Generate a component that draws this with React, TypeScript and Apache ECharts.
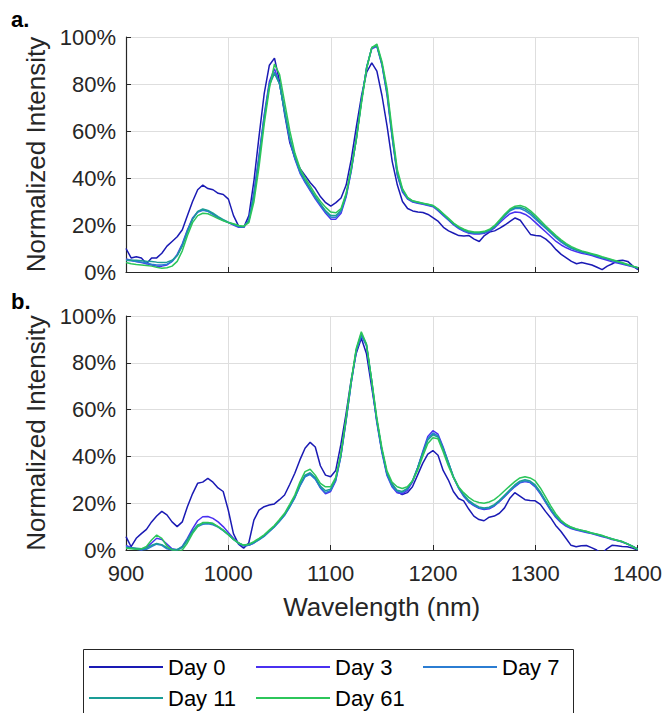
import React, { useEffect, useRef } from "react";
import * as echarts from "echarts";

// Wavelength sampling (nm)
const wavelengths = [
  900, 905, 910, 915, 920, 925, 930, 935, 940, 945,
  950, 955, 960, 965, 970, 975, 980, 985, 990, 995,
  1000, 1005, 1010, 1015, 1020, 1025, 1030, 1035, 1040, 1045,
  1050, 1055, 1060, 1065, 1070, 1075, 1080, 1085, 1090, 1095,
  1100, 1105, 1110, 1115, 1120, 1125, 1130, 1135, 1140, 1145,
  1150, 1155, 1160, 1165, 1170, 1175, 1180, 1185, 1190, 1195,
  1200, 1205, 1210, 1215, 1220, 1225, 1230, 1235, 1240, 1245,
  1250, 1255, 1260, 1265, 1270, 1275, 1280, 1285, 1290, 1295,
  1300, 1305, 1310, 1315, 1320, 1325, 1330, 1335, 1340, 1345,
  1350, 1355, 1360, 1365, 1370, 1375, 1380, 1385, 1390, 1395,
  1400,
];

const dayNames = ["Day 0", "Day 3", "Day 7", "Day 11", "Day 61"];
const dayColors = ["#1a1ab4", "#4a30f0", "#2b7dd2", "#1a9d96", "#2cc65a"];

const xTicks = [900, 1000, 1100, 1200, 1300, 1400];
const yTicks = [0, 20, 40, 60, 80, 100];

// Panel a — normalized intensity (%)
const topDay0 = [
  10, 6, 6.5, 6, 3.5, 6, 6, 8, 11, 13,
  15, 18, 24, 30, 35, 37, 35.5, 35, 33.5, 33,
  31, 24, 19.5, 19, 24, 39, 58, 76, 88, 91,
  81, 67, 55, 48.5, 44, 41, 38, 35.5, 32, 29.5,
  28, 29.5, 31.5, 37, 48, 62, 75, 85, 89, 85.5,
  75, 62, 47, 37, 30, 27, 26, 25.5, 25.3, 24.5,
  23, 21.5, 19, 17.5, 16.5, 15.5, 15.3, 15.5, 14, 13,
  15.5, 17, 17.5, 18.7, 20, 21.5, 23, 22, 19, 16,
  15.5, 15.3, 14, 12, 9.5, 7.5, 6, 4.5, 3.5, 4,
  3.5, 3, 2, 1, 2.5, 3.5, 4.8, 5, 4.5, 2.5,
  1,
];
const topDay3 = [
  5.5, 5, 4.5, 4, 3.5, 3, 2.5, 2.5, 3, 4.5,
  7.5, 12, 18, 23, 25.5, 26.5, 26, 24.5, 23, 22,
  21, 20, 19, 19, 22, 34, 50, 67, 81, 86.5,
  80, 68, 56, 48, 42, 38, 34.5, 31, 28, 25,
  22.5, 22.5, 25, 32, 43, 57, 73, 87, 95, 96,
  88, 75, 57, 41, 34, 31, 29.8, 29.3, 28.8, 28.3,
  27.8, 26, 24, 22, 20, 18.5, 17.3, 16.5, 16.2, 16.2,
  16.5, 17.3, 18.8, 21, 23, 24.8, 25.5, 25.3, 24.5, 23,
  21, 19, 17, 15, 13, 11.5, 10.3, 9.3, 8.6, 8,
  7.5, 7, 6.3, 5.6, 5, 4.3, 3.8, 3.3, 2.8, 2.2,
  1.6,
];
const topDay7 = [
  5, 4.8, 4.5, 4.2, 3.8, 3.3, 3, 3, 3.3, 4.5,
  7, 11.5, 17.5, 22.5, 25.5, 26.3, 25.8, 24.5, 23.2, 22,
  21, 20.2, 19.3, 19.2, 22, 33, 49, 66, 80, 85,
  80, 68, 56.5, 48.5, 42.5, 38.5, 35, 31.5, 28.5, 25.5,
  23.3, 23.3, 25.8, 32.5, 43.5, 57, 73, 87, 95.5, 96.5,
  88.5, 76, 57.5, 41.5, 34.5, 31.3, 30, 29.5, 29, 28.5,
  28, 26.3, 24.3, 22.3, 20.3, 18.8, 17.6, 16.8, 16.5, 16.5,
  16.8, 17.6, 19.2, 21.5, 24, 26, 27, 27, 26, 24.5,
  22.5, 20.5, 18.5, 16.5, 14.5, 12.7, 11.2, 10, 9.2, 8.5,
  8, 7.4, 6.8, 6.1, 5.5, 4.8, 4.2, 3.6, 3, 2.3,
  1.7,
];
const topDay11 = [
  5, 5, 5, 4.8, 4.6, 4.5, 4.2, 4, 4.2, 5,
  7, 11, 17, 22.5, 25.8, 26.8, 26.2, 25, 23.6, 22.3,
  21.2, 20.3, 19.5, 19.3, 21.8, 32.5, 48, 65, 79.5, 84.5,
  80, 68.5, 57, 49, 43, 39, 35.5, 32, 29, 26,
  24, 24, 26.3, 33, 44, 57, 73, 87, 95.5, 96.2,
  88.5, 76.5, 58, 42, 35, 31.5, 30.2, 29.7, 29.2, 28.7,
  28.2, 26.5, 24.5, 22.5, 20.5, 19, 17.8, 17, 16.7, 16.7,
  17, 17.8, 19.4, 21.8, 24.3, 26.4, 27.5, 27.6, 26.8, 25.3,
  23.2, 21, 19, 17, 15, 13.2, 11.6, 10.3, 9.4, 8.7,
  8.1, 7.5, 6.9, 6.2, 5.6, 5, 4.4, 3.7, 3.1, 2.4,
  1.8,
];
const topDay61 = [
  4, 3.5, 3.2, 3, 2.8, 2.5, 2, 1.6, 1.8, 2.5,
  4.5, 9, 15.5, 21, 24, 25, 24.8, 23.8, 22.7, 21.8,
  21, 20.5, 19.8, 19.5, 21, 30, 45, 63, 78, 88.5,
  84, 72, 60, 50.5, 44, 40, 36.5, 33, 30, 27.5,
  25.5, 25.2, 27, 33.5, 44, 56.5, 72, 86.5, 95.5, 97,
  89.5, 78, 60, 43.5, 35.5, 31.8, 30.3, 29.8, 29.3, 28.8,
  28.3, 26.8, 24.8, 22.8, 20.8, 19.3, 18.2, 17.4, 17, 17,
  17.3, 18.2, 19.8, 22.2, 24.7, 26.8, 28, 28.3, 27.6, 26,
  24, 21.8, 19.6, 17.5, 15.5, 13.7, 12.1, 10.8, 9.8, 9,
  8.4, 7.8, 7.2, 6.5, 5.9, 5.2, 4.6, 3.9, 3.2, 2.5,
  1.8,
];

// Panel b — normalized intensity (%)
const bottomDay0 = [
  5.7, 1.4, 5, 7, 8.8, 12, 14.5, 16.5, 15, 12,
  10, 12, 18.5, 24, 28.5, 29, 30.6, 29, 26.5, 25,
  17, 7, 2.5, 0.8, 3, 12.8, 17, 18.5, 19.2, 19.7,
  21.5, 23.5, 28, 32.8, 38.5, 43.5, 46, 44, 36, 32,
  31.3, 34, 45, 58, 72.5, 84, 90.5, 84, 70, 56,
  43, 33, 28.3, 25, 23.7, 24.5, 27, 32, 37, 41,
  42.5, 40.5, 34, 30, 25, 22, 21, 17.5, 14.5, 13,
  12.5, 14, 14.5, 15.7, 18, 22, 24.5, 23, 21.5, 21.2,
  21, 19.5, 16.5, 13.8, 10.5, 8, 5, 2, 1.4, 1.8,
  1.9, 1, 0, -1.5, 0.5, 2, 1.8, 1.5, 1.4, 0.8,
  0,
];
const bottomDay3 = [
  2, 1, 0.5, 0, 1, 3, 5, 4.5, 2.5, 0.5,
  0, 1.5, 5, 9, 12.5, 14.2, 14.3, 13.5, 12, 10,
  7.5, 5, 3, 1.8, 2, 3, 4.5, 6, 8, 10,
  12.5, 15, 18.5, 22.5, 27.5, 31.5, 32.5, 30.5, 26.5, 24,
  25, 29.5, 40, 55, 71, 85, 92, 87.5, 72, 55,
  42, 32, 27, 24.5, 24, 25.5, 29, 35, 42, 48.5,
  51, 49.5, 44, 37.5, 31, 26.5, 23, 20.5, 19, 17.8,
  17.3, 17.6, 18.8, 20.6, 22.8, 25, 27, 28.7, 29.3, 28.8,
  27, 24, 20.5, 17, 14, 11.8, 10.2, 9.2, 8.5, 8,
  7.5, 7, 6.4, 5.8, 5.2, 4.5, 4, 3.4, 2.5, 1.5,
  0.5,
];
const bottomDay7 = [
  1.5, 0.8, 0.3, 0, 0.3, 1.5, 2.5, 2, 0.5, 0,
  0, 1, 4, 7.5, 10, 11, 11.2, 10.8, 9.8, 8.3,
  6.5, 4.5, 2.8, 1.8, 2, 3, 4.3, 5.8, 7.8, 9.8,
  12.2, 14.8, 18.3, 22.3, 27.3, 31.3, 32.3, 30.3, 26.7, 24.5,
  25.5, 30, 40, 55, 71, 85, 91.5, 87.5, 72.5, 55.5,
  42.5, 32.5, 27.5, 25, 24.6, 26, 29.5, 35, 41.5, 47.5,
  50, 48.8, 43.5, 37.5, 31.2, 26.7, 23.3, 20.8, 19.2, 18,
  17.6, 17.9, 19, 20.8, 23, 25.2, 27.3, 28.9, 29.5, 29,
  27.3, 24.3, 20.8, 17.3, 14.3, 12.1, 10.5, 9.4, 8.7, 8.2,
  7.7, 7.2, 6.6, 6, 5.4, 4.7, 4.1, 3.5, 2.6, 1.6,
  0.5,
];
const bottomDay11 = [
  1, 1, 0.8, 0.5, 0.8, 2, 2.8, 2.3, 1, 0.3,
  0.2, 1.3, 4.5, 8, 10.7, 11.5, 11.6, 11.2, 10, 8.5,
  6.7, 4.7, 3, 2, 2.3, 3.3, 4.6, 6.1, 8.1, 10.1,
  12.6, 15.2, 18.8, 22.8, 28, 32, 33, 31, 27.3, 25.3,
  26, 30.5, 40.5, 55.5, 71.5, 85.5, 92.5, 88, 73, 56,
  43, 33, 28, 25.5, 25, 26.3, 29.6, 35, 41.2, 47,
  49.2, 48.3, 43.3, 37.5, 31.5, 27, 23.7, 21.2, 19.6, 18.4,
  18, 18.3, 19.4, 21.2, 23.4, 25.6, 27.8, 29.4, 30, 29.5,
  27.8, 24.8, 21.2, 17.7, 14.6, 12.4, 10.8, 9.7, 9, 8.4,
  7.9, 7.3, 6.7, 6.1, 5.5, 4.8, 4.2, 3.6, 2.7, 1.6,
  0.4,
];
const bottomDay61 = [
  0.7, 0.5, 0.3, 0.5, 1.5, 4.3, 6.4, 5, 1.7, 0,
  -0.5, 0, 3, 7, 10, 11.7, 11.8, 11.4, 10, 8.5,
  6.5, 4.5, 3, 2.1, 2.5, 3.6, 5, 6.5, 8.5, 10.5,
  13, 15.7, 19.5, 23.5, 29, 33.5, 34.5, 32, 28.5, 27,
  27, 31, 41, 56, 72, 86, 93.3, 88, 73, 57,
  44, 34, 29, 27, 26.3, 27, 29.5, 34, 40, 45.5,
  48, 47.5, 42, 36, 31, 27, 24.5, 22.5, 21, 20.3,
  20, 20.5, 21.5, 23.3, 25.3, 27.3, 29.2, 30.8, 31.3, 30.8,
  29.5, 26.5, 22.8, 19, 15.5, 12.8, 11, 9.8, 9, 8.5,
  8, 7.3, 6.8, 6.3, 5.5, 4.7, 4.2, 3.6, 2.6, 1.5,
  0.3,
];

const topPanel = [topDay0, topDay3, topDay7, topDay11, topDay61];
const bottomPanel = [bottomDay0, bottomDay3, bottomDay7, bottomDay11, bottomDay61];

const FONT = '"Liberation Sans", Arial, Helvetica, sans-serif';
const AXIS_COLOR = "#262626";
const GRID_COLOR = "#dedede";

function makeX(gridIndex: number, showLabels: boolean) {
  return {
    type: "value",
    gridIndex,
    min: xTicks[0],
    max: xTicks[xTicks.length - 1],
    interval: 100,
    axisLine: { show: true, onZero: false, lineStyle: { color: AXIS_COLOR, width: 1.2 } },
    axisTick: { show: true, inside: true, length: 5, lineStyle: { color: AXIS_COLOR } },
    splitLine: { show: true, lineStyle: { color: GRID_COLOR, width: 1 } },
    axisLabel: {
      show: showLabels,
      margin: 12,
      fontSize: 22,
      fontFamily: FONT,
      color: AXIS_COLOR,
      formatter: (v: number) => String(v),
    },
    name: showLabels ? "Wavelength (nm)" : "",
    nameLocation: "middle",
    nameGap: 44,
    nameTextStyle: { fontSize: 26, fontFamily: FONT, color: AXIS_COLOR },
  };
}

function makeY(gridIndex: number) {
  return {
    type: "value",
    gridIndex,
    min: yTicks[0],
    max: yTicks[yTicks.length - 1],
    interval: 20,
    axisLine: { show: true, onZero: false, lineStyle: { color: AXIS_COLOR, width: 1.2 } },
    axisTick: { show: true, inside: true, length: 5, lineStyle: { color: AXIS_COLOR } },
    splitLine: { show: true, lineStyle: { color: GRID_COLOR, width: 1 } },
    axisLabel: {
      formatter: "{value}%",
      margin: 10,
      fontSize: 22,
      fontFamily: FONT,
      color: AXIS_COLOR,
      padding: [6, 0, 0, 0],
    },
    name: "Normalized Intensity",
    nameLocation: "middle",
    nameRotate: 90,
    nameGap: 76,
    nameTextStyle: { fontSize: 26, fontFamily: FONT, color: AXIS_COLOR },
  };
}

function buildSeries(panel: number[][], idx: number) {
  return panel.map((vals, i) => ({
    name: dayNames[i],
    type: "line",
    xAxisIndex: idx,
    yAxisIndex: idx,
    data: wavelengths.map((w, k) => [w, vals[k]]),
    symbol: "none",
    showSymbol: false,
    clip: true,
    color: dayColors[i],
    lineStyle: { color: dayColors[i], width: 1.5 },
    emphasis: { disabled: true },
  }));
}

const legendSlots = [
  { left: 89, top: 656 },
  { left: 256, top: 656 },
  { left: 423, top: 656 },
  { left: 89, top: 687 },
  { left: 256, top: 687 },
];

export default function App() {
  const ref = useRef<HTMLDivElement>(null);

  useEffect(() => {
    if (!ref.current) return;
    const chart = echarts.init(ref.current, undefined, { renderer: "svg" });
    const option = {
      animation: false,
      backgroundColor: "#ffffff",
      grid: [
        { left: 126, top: 37, width: 512, height: 235 },
        { left: 126, top: 316, width: 512, height: 234 },
      ],
      xAxis: [makeX(0, false), makeX(1, true)],
      yAxis: [makeY(0), makeY(1)],
      legend: dayNames.map((n, i) => ({
        data: [{ name: n, icon: "rect" }],
        left: legendSlots[i].left,
        top: legendSlots[i].top,
        padding: 0,
        itemWidth: 74,
        itemHeight: 2,
        selectedMode: false,
        textStyle: { fontSize: 22, fontFamily: FONT, color: "#000" },
      })),
      graphic: [
        {
          type: "rect",
          left: 81,
          top: 647,
          shape: { width: 490, height: 70 },
          style: { fill: "none", stroke: AXIS_COLOR, lineWidth: 1 },
          z: -1,
        },
        {
          type: "text",
          left: 11,
          top: 8,
          style: { text: "a.", fontSize: 22, fontWeight: "bold", fontFamily: FONT, fill: "#000" },
        },
        {
          type: "text",
          left: 11,
          top: 290,
          style: { text: "b.", fontSize: 22, fontWeight: "bold", fontFamily: FONT, fill: "#000" },
        },
      ],
      series: [...buildSeries(topPanel, 0), ...buildSeries(bottomPanel, 1)],
    };
    chart.setOption(option as any);
    return () => chart.dispose();
  }, []);

  return (
    <div
      ref={ref}
      style={{ position: "fixed", left: 0, top: 0, width: 665, height: 713, background: "#fff" }}
    />
  );
}
